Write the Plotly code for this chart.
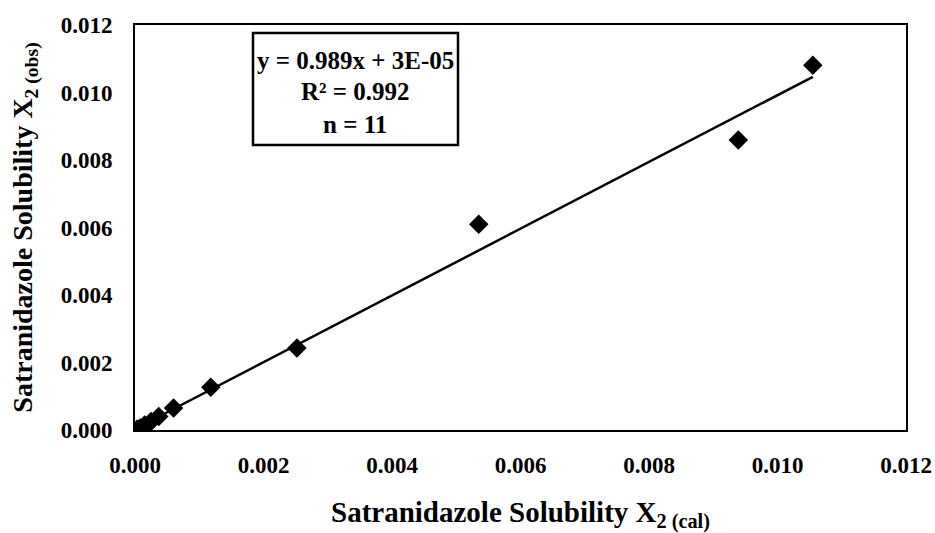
import numpy as np
import plotly.graph_objects as go

# Data
x_cal = [0.00003, 0.00008, 0.00015, 0.00025, 0.00037, 0.00060, 0.00118, 0.00252, 0.00535, 0.00939, 0.01055]
x_obs = [0.00002, 0.00006, 0.00015, 0.00025, 0.00040, 0.00065, 0.00127, 0.00243, 0.00610, 0.00859, 0.01081]
slope = 0.989
intercept = 3e-05
r_squared = 0.992
tick_vals = [0.000, 0.002, 0.004, 0.006, 0.008, 0.010, 0.012]
tick_text = ["0.000", "0.002", "0.004", "0.006", "0.008", "0.010", "0.012"]

FONT = "Liberation Serif"

fit_x = [min(x_cal), max(x_cal)]
fit_y = [slope * v + intercept for v in fit_x]

fig = go.Figure()
fig.add_trace(go.Scatter(x=fit_x, y=fit_y, mode="lines",
                         line=dict(color="black", width=2.5), showlegend=False))
fig.add_trace(go.Scatter(x=x_cal, y=x_obs, mode="markers",
                         marker=dict(symbol="diamond", color="black", size=15),
                         showlegend=False))

axis_common = dict(
    showline=True, mirror=True, linecolor="black", linewidth=2,
    showgrid=False, zeroline=False, ticks="", automargin=False,
    tickvals=tick_vals, ticktext=tick_text,
    tickfont=dict(family=FONT, size=23, color="black", weight="bold"),
)

fig.update_xaxes(range=[0, 0.012], ticklabelstandoff=13,
                 title=dict(text="<b>Satranidazole Solubility X<sub>2 (cal)</sub></b>",
                            font=dict(family=FONT, size=29, color="black"), standoff=40),
                 **axis_common)
fig.update_yaxes(range=[0, 0.012], ticklabelstandoff=16,
                 title=dict(text="<b>Satranidazole Solubility X<sub>2 (obs)</sub></b>",
                            font=dict(family=FONT, size=28, color="black"), standoff=20),
                 **axis_common)

# Equation box (paper coords; plot area spans 771 x 405 px)
fig.add_shape(type="rect", xref="paper", yref="paper",
              x0=(253 - 135) / 771, x1=(458 - 135) / 771,
              y0=(430 - 145) / 405, y1=(430 - 33) / 405,
              line=dict(color="black", width=2.5), fillcolor="white", layer="above")
lines = [f"y = {slope}x + 3E-05", f"R² = {r_squared}", f"n = {len(x_cal)}"]
ys = [60, 92, 124]
for txt, yp in zip(lines, ys):
    fig.add_annotation(text=f"<b>{txt}</b>", xref="paper", yref="paper",
                       x=(355 - 135) / 771, y=(430 - yp) / 405, showarrow=False,
                       xanchor="center", yanchor="middle",
                       font=dict(family=FONT, size=25, color="black"))

fig.update_layout(
    width=935, height=533,
    margin=dict(l=135, r=29, t=25, b=103),
    paper_bgcolor="white", plot_bgcolor="white",
    font=dict(family=FONT, color="black"),
)

fig.write_html(
    "out.html",
    config={"displayModeBar": False},
    post_script="document.body.style.margin='0px';"
                "document.documentElement.style.overflow='hidden';"
                "document.body.style.overflow='hidden';",
)
